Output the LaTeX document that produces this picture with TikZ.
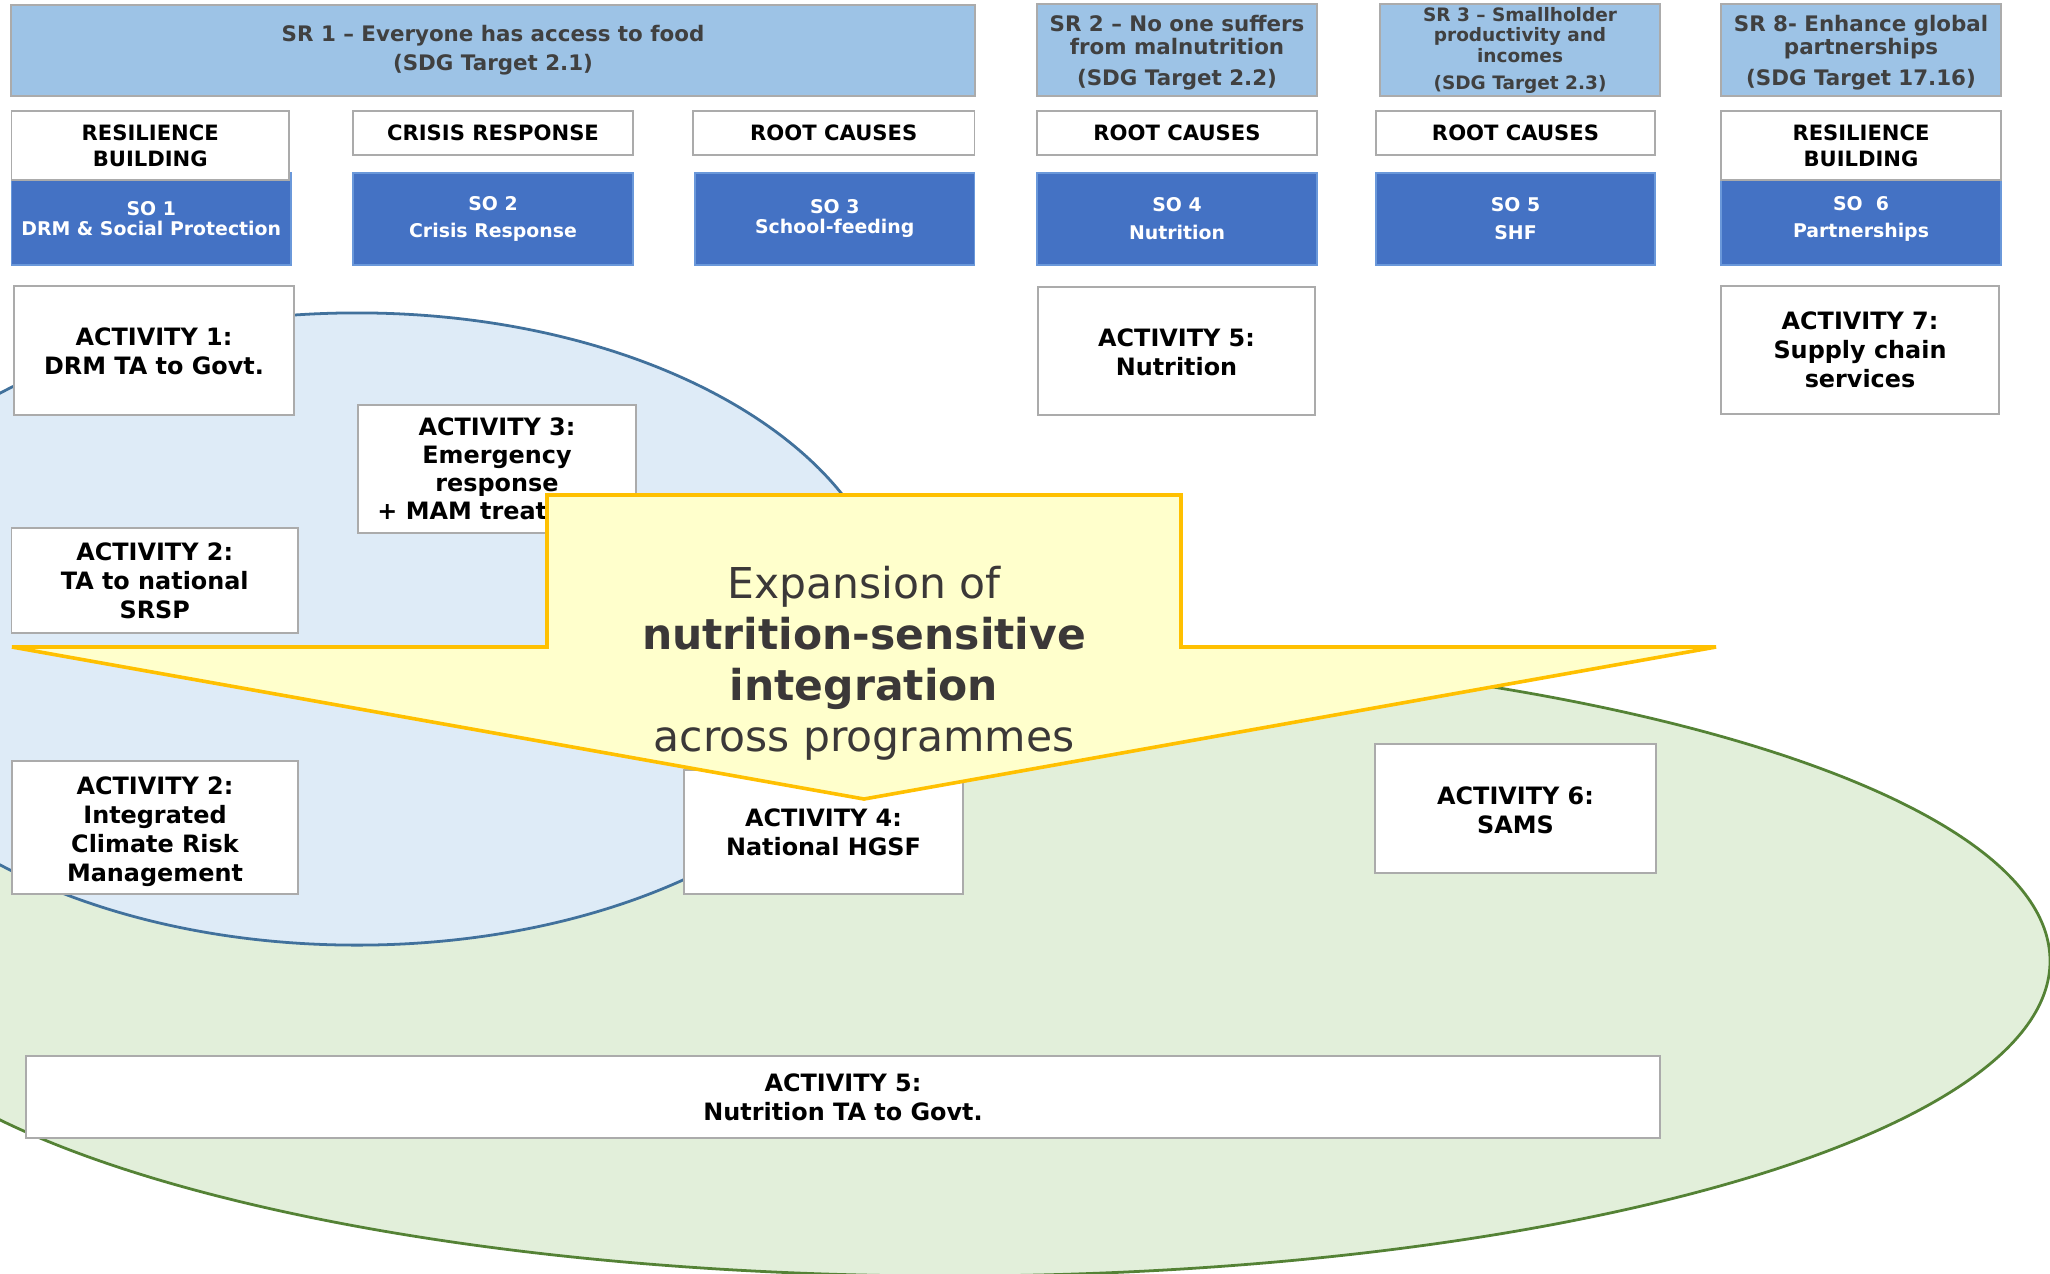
\documentclass[tikz,border=0pt]{standalone}
\usepackage{fontspec}
\setmainfont{DejaVu Sans}
\usetikzlibrary{fit}
\definecolor{srblue}{HTML}{9DC3E6}
\definecolor{srtext}{HTML}{404040}
\definecolor{soblue}{HTML}{4472C4}
\definecolor{soedge}{HTML}{6A98DA}
\definecolor{boxgray}{HTML}{ABABAB}
\definecolor{bluefill}{HTML}{DEEBF7}
\definecolor{blueline}{HTML}{41719C}
\definecolor{greenfill}{HTML}{E2EFDA}
\definecolor{greenline}{HTML}{548235}
\definecolor{yellowfill}{HTML}{FFFFCC}
\definecolor{yellowline}{HTML}{FFC000}
\definecolor{bigtext}{HTML}{3B3838}
\begin{document}
\begin{tikzpicture}[x=0.36pt,y=-0.36pt,
  base/.style={inner sep=0pt, outer sep=0pt, line width=0.6pt},
  txt/.style={inner sep=0pt, outer sep=0pt, align=center},
  srbox/.style={base, fill=srblue, draw=boxgray},
  srtxt/.style={txt, text=srtext, font=\bfseries\fontsize{7.7}{8.3}\selectfont},
  catbox/.style={base, fill=white, draw=boxgray},
  cattxt/.style={txt, text=black, font=\bfseries\fontsize{7.6}{9.4}\selectfont},
  sobox/.style={base, fill=soblue, draw=soedge},
  sotxt/.style={txt, text=white, font=\bfseries\fontsize{6.8}{10}\selectfont},
  actbox/.style={base, fill=white, draw=boxgray},
  acttxt/.style={txt, text=black, font=\bfseries\fontsize{8.6}{10.4}\selectfont}
]
\useasboundingbox (0,0) rectangle (2050,1273);
\clip (0,0) rectangle (2050,1273);
\fill[white] (0,0) rectangle (2050,1273);

% ellipses
\filldraw[fill=greenfill, draw=greenline, line width=1pt] (950,961) ellipse [x radius=396pt, y radius=113.4pt];
\filldraw[fill=bluefill, draw=blueline, line width=1pt] (357,629) ellipse [x radius=193pt, y radius=113.8pt];

% strategic results
\node[srbox, fit={(11,5) (975,96)}] (sr1) {};
\node[srtxt] (sr1t) at (sr1.center) {SR 1 – Everyone has access to food\\[2.2pt](SDG Target 2.1)};
\node[srbox, fit={(1037,4) (1317,96)}] (sr2) {};
\node[srtxt, yshift=-0.9pt] (sr2t) at (sr2.center) {SR 2 – No one suffers\\from malnutrition\\[2.9pt](SDG Target 2.2)};
\node[srbox, fit={(1380,4) (1660,96)}] (sr3) {};
\node[srtxt, font=\bfseries\fontsize{6.66}{7.4}\selectfont] (sr3t) at (sr3.center) {SR 3 – Smallholder\\productivity and\\incomes\\[2.3pt](SDG Target 2.3)};
\node[srbox, fit={(1721,4) (2001,96)}] (sr8) {};
\node[srtxt, yshift=-0.9pt] (sr8t) at (sr8.center) {SR 8- Enhance global\\partnerships\\[2.9pt](SDG Target 17.16)};

% strategic objectives
\node[sobox, fit={(11.5,173) (291,265)}] (so1) {};
\node[sotxt, font=\bfseries\fontsize{6.8}{7.2}\selectfont] (so1t) at (so1.center) {SO 1\\DRM \& Social Protection};
\node[sobox, fit={(353,173) (633,265)}] (so2) {};
\node[sotxt] (so2t) at (so2.center) {SO 2\\Crisis Response};
\node[sobox, fit={(695,173) (974.5,265)}] (so3) {};
\node[sotxt, font=\bfseries\fontsize{6.8}{7.2}\selectfont] (so3t) at (so3.center) {SO 3\\School-feeding};
\node[sobox, fit={(1037,173) (1317,265)}] (so4) {};
\node[sotxt] (so4t) at (so4.center) {SO 4\\Nutrition};
\node[sobox, fit={(1376,173) (1655,265)}] (so5) {};
\node[sotxt] (so5t) at (so5.center) {SO 5\\SHF};
\node[sobox, fit={(1721,173) (2001,265)}] (so6) {};
\node[sotxt] (so6t) at (so6.center) {SO\ \ 6\\Partnerships};

% focus areas
\node[catbox, fit={(11.5,111) (289,180)}] (cat1) {};
\node[cattxt] (cat1t) at (cat1.center) {RESILIENCE\\BUILDING};
\node[catbox, fit={(353,111) (633,155)}] (cat2) {};
\node[cattxt] (cat2t) at (cat2.center) {CRISIS RESPONSE};
\node[catbox, fit={(693,111) (974.5,155)}] (cat3) {};
\node[cattxt] (cat3t) at (cat3.center) {ROOT CAUSES};
\node[catbox, fit={(1037,111) (1317,155)}] (cat4) {};
\node[cattxt] (cat4t) at (cat4.center) {ROOT CAUSES};
\node[catbox, fit={(1376,111) (1655,155)}] (cat5) {};
\node[cattxt] (cat5t) at (cat5.center) {ROOT CAUSES};
\node[catbox, fit={(1721,111) (2001,180)}] (cat6) {};
\node[cattxt] (cat6t) at (cat6.center) {RESILIENCE\\BUILDING};

% activities
\node[actbox, fit={(14,286) (294,415)}] (a1) {};
\node[acttxt, yshift=-0.4pt] (a1t) at (a1.center) {ACTIVITY 1:\\DRM TA to Govt.};
\node[actbox, fit={(358,405) (636,533)}] (a3) {};
\node[acttxt, font=\bfseries\fontsize{8.6}{10.1}\selectfont] (a3t) at (a3.center) {ACTIVITY 3:\\Emergency\\response\\+ MAM treatment};
\node[actbox, fit={(11.5,528) (298,633)}] (a2a) {};
\node[acttxt] (a2at) at (a2a.center) {ACTIVITY 2:\\TA to national\\SRSP};
\node[actbox, fit={(12,761) (298,894)}] (a2b) {};
\node[acttxt, yshift=-1.4pt] (a2bt) at (a2b.center) {ACTIVITY 2:\\Integrated\\Climate Risk\\Management};
\node[actbox, fit={(684,770) (963,894)}] (a4) {};
\node[acttxt] (a4t) at (a4.center) {ACTIVITY 4:\\National HGSF};
\node[actbox, fit={(1038,287) (1315,415)}] (a5) {};
\node[acttxt, yshift=-0.5pt] (a5t) at (a5.center) {ACTIVITY 5:\\Nutrition};
\node[actbox, fit={(1721,286) (1999,414)}] (a7) {};
\node[acttxt] (a7t) at (a7.center) {ACTIVITY 7:\\Supply chain\\services};
\node[actbox, fit={(1375,744) (1656,873)}] (a6) {};
\node[acttxt, yshift=-0.5pt] (a6t) at (a6.center) {ACTIVITY 6:\\SAMS};
\node[actbox, fit={(26,1056) (1660,1138)}] (a5b) {};
\node[acttxt] (a5bt) at (a5b.center) {ACTIVITY 5:\\Nutrition TA to Govt.};

% big arrow
\filldraw[fill=yellowfill, draw=yellowline, line width=1.3pt]
  (547,495) -- (1181,495) -- (1181,647) -- (1716,647) -- (864,799) -- (12,647) -- (547,647) -- cycle;
\node[txt, text=bigtext, font=\fontsize{15.3}{18.4}\selectfont] (bigtext) at (864,663)
  {Expansion of\\\textbf{nutrition-sensitive}\\\textbf{integration}\\across programmes};
\end{tikzpicture}
\end{document}
